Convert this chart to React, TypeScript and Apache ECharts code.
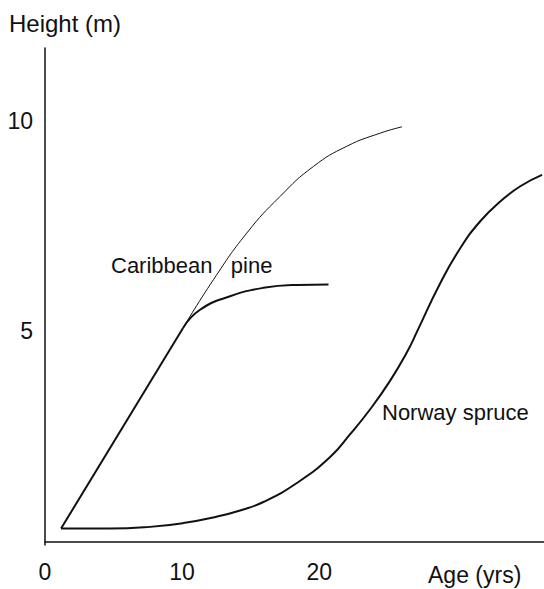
import React, { useEffect, useRef } from "react";
import * as echarts from "echarts";

const xTickLabels = [0, 10, 20];
const yTickLabels = [5, 10];

// Caribbean pine: straight early growth, then levelling off
const pineEarly: [number, number][] = [
  [1.17, 0.32],
  [10.07, 5.08],
];
const pineLate: [number, number][] = [
  [10.07, 5.08],
  [11.31, 5.51],
  [13.5, 5.83],
  [15.93, 6.03],
  [18.37, 6.1],
  [20.68, 6.11],
];
// thin continuation of the pine curve
const pinePotential: [number, number][] = [
  [10.07, 5.08],
  [12.28, 6.22],
  [14.72, 7.33],
  [17.15, 8.2],
  [19.58, 8.91],
  [22.02, 9.39],
  [24.45, 9.7],
  [26.04, 9.85],
];
// Norway spruce: slow start, S-curve
const spruce: [number, number][] = [
  [1.17, 0.32],
  [4.74, 0.32],
  [7.66, 0.36],
  [10.09, 0.45],
  [12.5, 0.6],
  [14.23, 0.75],
  [15.93, 0.95],
  [18.37, 1.4],
  [20.8, 2.02],
  [22.26, 2.56],
  [23.72, 3.15],
  [25.18, 3.83],
  [26.4, 4.5],
  [27.18, 5.02],
  [28.83, 6.14],
  [30.29, 6.97],
  [31.75, 7.61],
  [33.21, 8.08],
  [34.67, 8.44],
  [36.26, 8.71],
];

const FONT = "'Liberation Sans', Arial, sans-serif";
const INK = "#111";

export default function App() {
  const ref = useRef<HTMLDivElement>(null);
  useEffect(() => {
    if (!ref.current) return;
    const chart = echarts.init(ref.current, undefined, { renderer: "svg" });
    const lineStyle = (w: number) => ({ color: INK, width: w });
    chart.setOption({
      animation: false,
      backgroundColor: "#fff",
      grid: { left: 45, right: 0, top: 48, bottom: 44, containLabel: false },
      xAxis: {
        type: "value",
        min: 0,
        max: 36.4,
        axisLine: { lineStyle: { color: INK, width: 1.5 } },
        axisTick: { show: false },
        splitLine: { show: false },
        axisLabel: {
          customValues: xTickLabels,
          color: INK,
          fontFamily: FONT,
          fontSize: 23,
          margin: 15,
        },
      },
      yAxis: {
        type: "value",
        min: -0.07,
        max: 11.72,
        axisLine: { show: true, lineStyle: { color: INK, width: 1.5 } },
        axisTick: { show: false },
        splitLine: { show: false },
        axisLabel: {
          customValues: yTickLabels,
          color: INK,
          fontFamily: FONT,
          fontSize: 23,
          margin: 12,
        },
      },
      series: [
        {
          type: "line",
          data: pineEarly,
          showSymbol: false,
          lineStyle: lineStyle(2),
        },
        {
          type: "line",
          data: pineLate,
          smooth: 0.5,
          showSymbol: false,
          lineStyle: lineStyle(2),
        },
        {
          type: "line",
          data: pinePotential,
          smooth: 0.5,
          showSymbol: false,
          lineStyle: lineStyle(1),
        },
        {
          type: "line",
          data: spruce,
          smooth: 0.5,
          showSymbol: false,
          lineStyle: lineStyle(2),
        },
      ],
      graphic: [
        {
          type: "text",
          x: 9,
          y: 23,
          style: { text: "Height (m)", font: `24px ${FONT}`, fill: INK, verticalAlign: "middle" },
        },
        {
          type: "text",
          x: 428,
          y: 575,
          style: { text: "Age (yrs)", font: `23px ${FONT}`, fill: INK, verticalAlign: "middle" },
        },
        {
          type: "text",
          x: 111,
          y: 265,
          style: { text: "Caribbean   pine", font: `22px ${FONT}`, fill: INK, verticalAlign: "middle" },
        },
        {
          type: "text",
          x: 382,
          y: 412,
          style: { text: "Norway spruce", font: `22px ${FONT}`, fill: INK, verticalAlign: "middle" },
        },
      ],
    });
    return () => chart.dispose();
  }, []);
  return <div ref={ref} style={{ width: 544, height: 589, position: "absolute", left: 0, top: 0 }} />;
}
